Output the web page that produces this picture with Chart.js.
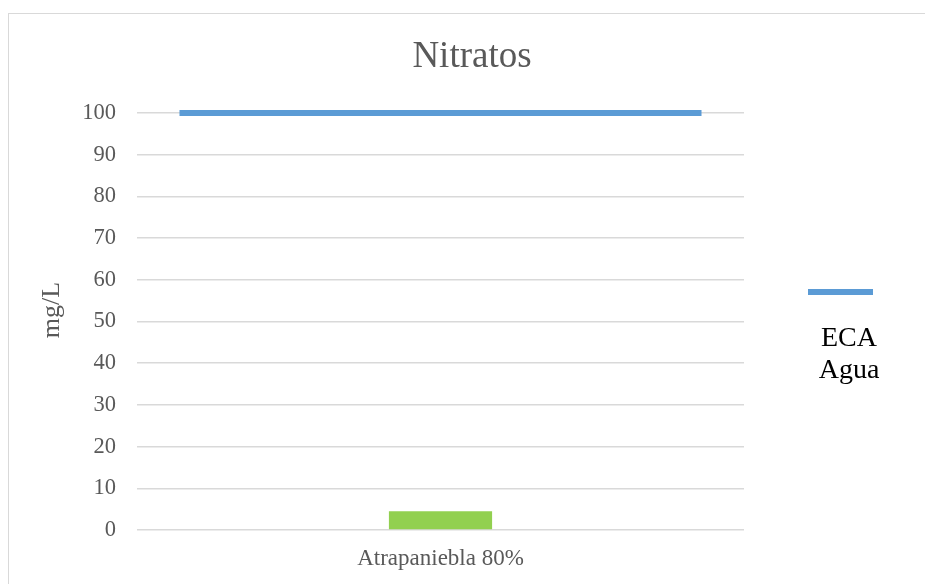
<!DOCTYPE html>
<html>
<head>
<meta charset="utf-8">
<script src="https://cdn.jsdelivr.net/npm/chart.js@4.4.1/dist/chart.umd.min.js"></script>
<style>
    html, body { margin: 0; padding: 0; background: #fff; overflow: hidden; }
    #chartHolder {
        position: absolute;
        left: 8px;
        top: 13px;
        width: 926px;
        height: 580px;
        border: 1px solid #d9d9d9;
        box-sizing: border-box;
    }
    #chartHolder canvas { position: absolute; left: 0; top: 0; }
</style>
</head>
<body>
<div id="chartHolder"></div>
<script>
// Values
const categories = ['Atrapaniebla 80%'];
const nitratosValues = [4.5];
const ecaValues = [100];
const yTicks = [0, 10, 20, 30, 40, 50, 60, 70, 80, 90, 100];

const SERIF = '"Liberation Serif", "Times New Roman", serif';
const GREY = '#595959';

// Draws the ECA series as a flat line on top of its (invisible) bar element,
// plus the y axis caption and the two-line legend at the right
const ecaLinePlugin = {
    id: 'ecaLine',
    afterDatasetsDraw(chart) {
        const ctx = chart.ctx;
        chart.data.datasets.forEach(function (ds, i) {
            if (!ds.drawAsLine) return;
            const meta = chart.getDatasetMeta(i);
            meta.data.forEach(function (el) {
                const props = el.getProps(['x', 'y', 'width'], true);
                ctx.save();
                ctx.strokeStyle = ds.lineColor;
                ctx.lineWidth = 6;
                ctx.beginPath();
                ctx.moveTo(props.x - props.width / 2, props.y);
                ctx.lineTo(props.x + props.width / 2, props.y);
                ctx.stroke();
                ctx.restore();
            });
        });
    },
    afterDraw(chart) {
        const ctx = chart.ctx;

        // y axis caption
        ctx.save();
        ctx.translate(43, 296);
        ctx.rotate(-Math.PI / 2);
        ctx.font = '26px ' + SERIF;
        ctx.fillStyle = GREY;
        ctx.textAlign = 'center';
        ctx.textBaseline = 'middle';
        ctx.fillText('mg/L', 0, 0);
        ctx.restore();

        // legend: line sample with the label wrapped under it
        const ds = chart.data.datasets[1];
        ctx.save();
        ctx.strokeStyle = ds.lineColor;
        ctx.lineWidth = 6;
        ctx.beginPath();
        ctx.moveTo(799, 278);
        ctx.lineTo(864, 278);
        ctx.stroke();
        ctx.font = '28px ' + SERIF;
        ctx.fillStyle = '#000';
        ctx.textAlign = 'center';
        ctx.textBaseline = 'alphabetic';
        const words = ds.label.split(' ');
        words.forEach(function (w, k) {
            ctx.fillText(w, 840, 332 + k * 32);
        });
        ctx.restore();
    }
};

function buildChart() {
    const holder = document.getElementById('chartHolder');
    const canvas = document.createElement('canvas');
    canvas.width = 926;
    canvas.height = 571;
    canvas.style.width = '926px';
    canvas.style.height = '571px';
    holder.appendChild(canvas);

    new Chart(canvas.getContext('2d'), {
        type: 'bar',
        data: {
            labels: categories,
            datasets: [
                {
                    label: 'Nitratos',
                    data: nitratosValues,
                    backgroundColor: '#92d050',
                    grouped: false,
                    categoryPercentage: 1,
                    barPercentage: 0.17,
                    order: 2
                },
                {
                    label: 'ECA Agua',
                    data: ecaValues,
                    backgroundColor: 'rgba(0,0,0,0)',
                    borderWidth: 0,
                    grouped: false,
                    categoryPercentage: 1,
                    barPercentage: 0.86,
                    drawAsLine: true,
                    lineColor: '#5b9bd5',
                    order: 1
                }
            ]
        },
        options: {
            responsive: false,
            animation: false,
            layout: {
                padding: 0
            },
            scales: {
                x: {
                    grid: { display: false, drawTicks: false },
                    border: { display: false },
                    ticks: {
                        padding: 15,
                        color: GREY,
                        font: { family: SERIF, size: 23 }
                    },
                    afterFit: function (scale) { scale.height = 55; }
                },
                y: {
                    min: 0,
                    max: 100,
                    afterBuildTicks: function (scale) {
                        scale.ticks = yTicks.map(function (v) { return { value: v }; });
                    },
                    grid: {
                        color: '#d9d9d9',
                        lineWidth: 1.5,
                        drawTicks: false
                    },
                    border: { display: false },
                    ticks: {
                        padding: 21,
                        color: GREY,
                        font: { family: SERIF, size: 22.5 }
                    },
                    afterFit: function (scale) { scale.width = 128; }
                },
                // empty axis that only reserves the legend room on the right
                legendSpace: {
                    type: 'linear',
                    position: 'right',
                    display: true,
                    grid: { display: false, drawTicks: false },
                    border: { display: false },
                    ticks: { display: false },
                    afterFit: function (scale) { scale.width = 191; }
                }
            },
            plugins: {
                legend: { display: false },
                tooltip: { enabled: false },
                title: {
                    display: true,
                    text: 'Nitratos',
                    color: GREY,
                    font: { family: SERIF, size: 37, weight: 'normal', lineHeight: 1.2 },
                    padding: { top: 21, bottom: 33.6 }
                }
            }
        },
        plugins: [ecaLinePlugin]
    });
}

buildChart();
</script>
</body>
</html>
